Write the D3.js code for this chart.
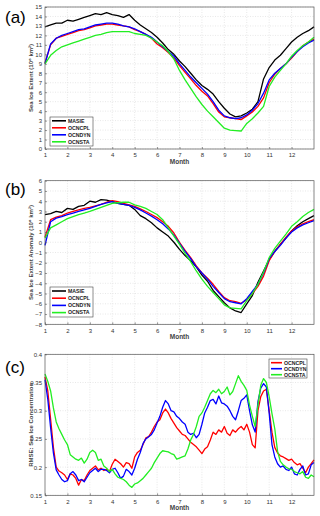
<!DOCTYPE html>
<html>
<head>
<meta charset="utf-8">
<script src="https://cdn.jsdelivr.net/npm/d3@7"></script>
<style>
  body { margin: 0; background: white; }
  text { font-family: "Liberation Sans", Arial, sans-serif; }
</style>
</head>
<body>
<div class="svg-container"></div>
<script>
/*** Data ***/

// month grid for panels (a) and (b), every quarter month
const monthsAB = d3.range(1, 13.001, 0.25)
// finer grid for panel (c)
const monthsC = d3.range(1, 13.001, 0.125)

const monthTicks = [1, 2, 3, 4, 5, 6, 7, 8, 9, 10, 11, 12]

// (a) sea ice extent, 10^6 km^2
const extMASIE = [12.9, 13.1, 13.3, 13.3, 13.6, 13.5, 13.7, 13.9, 14.1, 14.3, 14.2, 14.4, 14.2, 14.1, 13.9, 14.2,
    13.6, 13.1, 12.7, 12.3, 11.8, 11.2, 10.5, 10.0, 9.3, 8.7, 8.0, 7.3, 6.7, 6.3, 5.8, 5.0,
    4.3, 3.7, 3.4, 3.5, 3.8, 4.2, 5.0, 7.4, 8.6, 9.4, 9.9, 10.6, 11.3, 11.8, 12.2, 12.5, 12.9]
const extCPL = [9.1, 11.0, 11.7, 11.9, 12.1, 12.3, 12.5, 12.6, 12.8, 13.0, 13.1, 13.2, 13.2, 13.1, 13.0, 12.9,
    12.6, 12.4, 12.1, 11.7, 11.1, 10.7, 10.2, 9.6, 8.8, 8.1, 7.4, 6.7, 6.1, 5.6, 4.8, 3.9,
    3.4, 3.3, 3.2, 3.1, 3.5, 3.9, 4.5, 5.4, 7.0, 7.9, 8.5, 9.0, 9.6, 10.3, 10.9, 11.3, 11.6]
const extDYN = [9.0, 11.1, 11.7, 12.0, 12.2, 12.4, 12.6, 12.7, 12.9, 13.1, 13.2, 13.3, 13.3, 13.2, 13.0, 12.9,
    12.7, 12.4, 12.1, 11.8, 11.3, 10.8, 10.3, 9.8, 9.0, 8.3, 7.6, 7.0, 6.4, 5.8, 5.0, 4.1,
    3.5, 3.3, 3.2, 3.3, 3.6, 4.1, 4.8, 5.9, 7.3, 8.0, 8.5, 9.0, 9.7, 10.3, 10.8, 11.2, 11.5]
const extSTA = [9.0, 9.9, 10.4, 10.8, 11.0, 11.2, 11.4, 11.6, 11.8, 12.0, 12.1, 12.3, 12.4, 12.4, 12.4, 12.4,
    12.2, 12.1, 12.0, 11.7, 11.3, 10.9, 10.3, 9.5, 8.3, 7.3, 6.4, 5.5, 4.7, 4.0, 3.4, 2.8,
    2.2, 2.0, 1.95, 1.9, 2.7, 3.2, 3.8, 4.5, 6.6, 7.6, 8.3, 9.0, 9.8, 10.4, 10.9, 11.3, 11.8]

// (b) sea ice extent anomaly, 10^6 km^2
const anoMASIE = [2.7, 2.8, 3.0, 2.9, 3.3, 3.2, 3.5, 3.6, 4.0, 3.9, 4.15, 4.1, 3.95, 3.8, 3.7, 3.6,
    3.2, 2.6, 2.3, 1.9, 1.4, 1.0, 0.6, 0.0, -0.7, -1.3, -1.8, -2.4, -3.2, -3.8, -4.7, -5.3,
    -5.9, -6.4, -6.7, -6.85, -6.0, -5.2, -3.9, -2.8, -1.7, -0.9, -0.2, 0.4, 1.1, 1.6, 2.0, 2.3, 2.6]
const anoCPL = [0.5, 2.2, 2.45, 2.6, 2.85, 3.0, 3.15, 3.3, 3.4, 3.55, 3.7, 3.9, 4.05, 3.95, 3.8, 3.65,
    3.5, 3.25, 3.0, 2.7, 2.4, 2.0, 1.55, 0.9, 0.0, -0.8, -1.5, -2.3, -3.0, -3.5, -4.1, -4.8,
    -5.4, -5.7, -5.8, -5.95, -5.6, -5.0, -4.3, -3.3, -1.8, -0.9, -0.2, 0.5, 1.1, 1.5, 1.8, 2.0, 2.2]
const anoDYN = [-0.3, 2.0, 2.35, 2.5, 2.7, 2.85, 3.0, 3.15, 3.3, 3.5, 3.7, 3.85, 3.95, 3.8, 3.7, 3.6,
    3.4, 3.15, 2.85, 2.55, 2.2, 1.8, 1.3, 0.7, -0.1, -0.9, -1.6, -2.4, -3.0, -3.6, -4.3, -4.9,
    -5.5, -5.8, -5.9, -6.0, -5.5, -4.8, -4.1, -3.0, -1.6, -0.9, -0.3, 0.4, 1.0, 1.4, 1.7, 1.9, 2.1]
const anoSTA = [0.4, 1.4, 1.7, 2.0, 2.3, 2.5, 2.7, 2.85, 3.0, 3.2, 3.4, 3.6, 3.8, 3.85, 3.9, 3.9,
    3.65, 3.5, 3.3, 3.0, 2.7, 2.2, 1.4, 0.6, -0.2, -1.1, -1.9, -2.8, -3.6, -4.3, -4.9, -5.5,
    -6.1, -6.4, -6.45, -6.5, -5.7, -5.0, -4.1, -2.9, -1.5, -0.6, 0.1, 0.8, 1.55, 2.0, 2.5, 2.9, 3.2]

// (c) RMSE of sea ice concentration
const rmseCPL = [0.360, 0.335, 0.285, 0.235, 0.200, 0.193, 0.190, 0.186, 0.178, 0.188, 0.186, 0.180, 0.168, 0.178, 0.176, 0.186,
    0.194, 0.198, 0.202, 0.195, 0.198, 0.194, 0.196, 0.192, 0.205, 0.214, 0.210, 0.206, 0.200, 0.208, 0.206, 0.198,
    0.218, 0.226, 0.230, 0.240, 0.252, 0.254, 0.262, 0.272, 0.280, 0.284, 0.296, 0.303, 0.296, 0.286, 0.278, 0.270,
    0.264, 0.258, 0.256, 0.250, 0.244, 0.240, 0.236, 0.230, 0.224, 0.232, 0.236, 0.248, 0.262, 0.258, 0.266, 0.262,
    0.272, 0.260, 0.256, 0.266, 0.262, 0.268, 0.272, 0.266, 0.276, 0.262, 0.240, 0.234, 0.300, 0.325, 0.335, 0.338,
    0.300, 0.262, 0.235, 0.225, 0.220, 0.218, 0.215, 0.212, 0.214, 0.208, 0.204, 0.206, 0.198, 0.190, 0.200, 0.206, 0.213]
const rmseDYN = [0.355, 0.320, 0.270, 0.225, 0.195, 0.186, 0.178, 0.174, 0.176, 0.188, 0.192, 0.186, 0.176, 0.178, 0.174, 0.182,
    0.190, 0.194, 0.198, 0.192, 0.196, 0.196, 0.194, 0.190, 0.196, 0.198, 0.190, 0.180, 0.184, 0.196, 0.192, 0.186,
    0.198, 0.214, 0.226, 0.242, 0.250, 0.254, 0.258, 0.266, 0.278, 0.290, 0.306, 0.318, 0.312, 0.300, 0.298, 0.290,
    0.286, 0.280, 0.276, 0.262, 0.258, 0.260, 0.252, 0.258, 0.276, 0.296, 0.306, 0.318, 0.320, 0.312, 0.326, 0.314,
    0.312, 0.308, 0.300, 0.290, 0.284, 0.300, 0.318, 0.322, 0.328, 0.300, 0.275, 0.262, 0.316, 0.340, 0.348, 0.342,
    0.296, 0.240, 0.218, 0.206, 0.200, 0.202, 0.196, 0.194, 0.200, 0.188, 0.186, 0.196, 0.202, 0.186, 0.188, 0.204, 0.208]
const rmseSTA = [0.365, 0.352, 0.335, 0.305, 0.280, 0.268, 0.258, 0.248, 0.240, 0.222, 0.218, 0.214, 0.212, 0.216, 0.207, 0.214,
    0.226, 0.230, 0.226, 0.212, 0.214, 0.202, 0.198, 0.192, 0.196, 0.188, 0.182, 0.180, 0.178, 0.174, 0.168, 0.164,
    0.170, 0.172, 0.176, 0.180, 0.186, 0.192, 0.198, 0.208, 0.216, 0.224, 0.229, 0.228, 0.227, 0.224, 0.222, 0.214,
    0.216, 0.218, 0.220, 0.232, 0.248, 0.258, 0.272, 0.290, 0.296, 0.306, 0.318, 0.330, 0.336, 0.332, 0.338, 0.330,
    0.334, 0.342, 0.328, 0.334, 0.348, 0.362, 0.352, 0.345, 0.336, 0.310, 0.290, 0.272, 0.310, 0.345, 0.357, 0.350,
    0.325, 0.295, 0.268, 0.228, 0.210, 0.204, 0.200, 0.197, 0.196, 0.192, 0.190, 0.188, 0.192, 0.182, 0.180, 0.186, 0.183]

const colors = {MASIE: "#000000", OCNCPL: "#ff0000", OCNDYN: "#0000ff", OCNSTA: "#22ee22"}

/*** Layout ***/

const svgWidth = 320
const svgHeight = 516
const left = 45
const right = 314

let svg = d3.select(".svg-container")
    .append("svg")
    .attr("width", svgWidth)
    .attr("height", svgHeight)
    .style("background-color", "white")

function drawPanel(cfg) {
    let xScale = d3.scaleLinear().domain([1, 13]).range([left, right])
    let yScale = d3.scaleLinear().domain(cfg.yDomain).range([cfg.bottom, cfg.top])

    let g = svg.append("g")

    // dotted grid
    g.append("g").selectAll("line")
        .data(monthTicks.slice(1))
        .enter().append("line")
        .attr("x1", d => xScale(d)).attr("x2", d => xScale(d))
        .attr("y1", cfg.top).attr("y2", cfg.bottom)
        .attr("stroke", "#d8d8d8").attr("stroke-width", 0.6)
        .attr("stroke-dasharray", "1,1.5")
    g.append("g").selectAll("line")
        .data(cfg.yTicks)
        .enter().append("line")
        .attr("x1", left).attr("x2", right)
        .attr("y1", d => yScale(d)).attr("y2", d => yScale(d))
        .attr("stroke", "#d8d8d8").attr("stroke-width", 0.6)
        .attr("stroke-dasharray", "1,1.5")

    // lines
    let line = d3.line()
        .x((d, i) => xScale(cfg.months[i]))
        .y(d => yScale(d))
    cfg.series.forEach(s => {
        g.append("path")
            .datum(s.values)
            .attr("d", line)
            .attr("fill", "none")
            .attr("stroke", colors[s.name])
            .attr("stroke-width", 1.3)
            .attr("stroke-linejoin", "round")
    })

    // frame
    g.append("rect")
        .attr("x", left).attr("y", cfg.top)
        .attr("width", right - left).attr("height", cfg.bottom - cfg.top)
        .attr("fill", "none").attr("stroke", "#555").attr("stroke-width", 0.7)

    // axes, ticks point inward
    let bottomAxis = d3.axisBottom(xScale)
        .tickValues(monthTicks)
        .tickFormat(d3.format("d"))
        .tickSizeInner(-2).tickSizeOuter(0).tickPadding(4)
    let xAxis = g.append("g")
        .attr("transform", `translate(0, ${cfg.bottom})`)
        .call(bottomAxis)
    let leftAxis = d3.axisLeft(yScale)
        .tickValues(cfg.yTicks)
        .tickFormat(cfg.fmt)
        .tickSizeInner(-2).tickSizeOuter(0).tickPadding(3)
    let yAxis = g.append("g")
        .attr("transform", `translate(${left}, 0)`)
        .call(leftAxis)
    ;[xAxis, yAxis].forEach(ax => {
        ax.select(".domain").remove()
        ax.selectAll("line").attr("stroke", "#555").attr("stroke-width", 0.6)
        ax.selectAll("text").style("font-size", "6px").attr("fill", "#333")
    })

    // axis titles
    g.append("text")
        .attr("x", (left + right) / 2)
        .attr("y", cfg.bottom + 15)
        .style("text-anchor", "middle")
        .style("font-size", "6.5px")
        .style("font-weight", "bold")
        .attr("fill", "#444")
        .text("Month")
    g.append("text")
        .attr("transform", `translate(33, ${(cfg.top + cfg.bottom) / 2}) rotate(-90)`)
        .style("text-anchor", "middle")
        .style("font-size", "6px")
        .style("font-weight", "bold")
        .attr("fill", "#444")
        .text(cfg.yTitle)

    // panel label
    g.append("text")
        .attr("x", 5)
        .attr("y", cfg.labelY)
        .style("font-size", "17px")
        .attr("fill", "black")
        .text(cfg.label)

    // legend
    let lg = cfg.legend
    let leg = g.append("g").attr("transform", `translate(${lg.x}, ${lg.y})`)
    leg.append("rect")
        .attr("width", lg.w).attr("height", lg.h)
        .attr("fill", "white").attr("stroke", "#444").attr("stroke-width", 0.6)
    cfg.series.forEach((s, i) => {
        let yy = lg.first + i * lg.step
        leg.append("line")
            .attr("x1", 2).attr("x2", lg.lineLen + 2)
            .attr("y1", yy).attr("y2", yy)
            .attr("stroke", colors[s.name]).attr("stroke-width", 1.6)
        leg.append("text")
            .attr("x", lg.lineLen + 4).attr("y", yy + 1.8)
            .style("font-size", "5.2px").style("font-weight", "bold")
            .attr("fill", "#222")
            .text(s.name)
    })
}

drawPanel({
    label: "(a)", labelY: 23,
    top: 7, bottom: 149, months: monthsAB,
    yDomain: [0, 15], yTicks: d3.range(0, 16), fmt: d3.format("d"),
    yTitle: "Sea Ice Extent (10\u2076 km\u00B2)",
    series: [
        {name: "MASIE", values: extMASIE},
        {name: "OCNCPL", values: extCPL},
        {name: "OCNDYN", values: extDYN},
        {name: "OCNSTA", values: extSTA}
    ],
    legend: {x: 50, y: 117, w: 43, h: 29, first: 3.8, step: 7, lineLen: 14}
})

drawPanel({
    label: "(b)", labelY: 195,
    top: 180.7, bottom: 324.3, months: monthsAB,
    yDomain: [-8, 6], yTicks: d3.range(-8, 7), fmt: d3.format("d"),
    yTitle: "Sea Ice Extent Anomaly (10\u2076 km\u00B2)",
    series: [
        {name: "MASIE", values: anoMASIE},
        {name: "OCNCPL", values: anoCPL},
        {name: "OCNDYN", values: anoDYN},
        {name: "OCNSTA", values: anoSTA}
    ],
    legend: {x: 50, y: 287, w: 43, h: 30, first: 4, step: 7.2, lineLen: 14}
})

drawPanel({
    label: "(c)", labelY: 373,
    top: 354.3, bottom: 495.3, months: monthsC,
    yDomain: [0.15, 0.4], yTicks: [0.15, 0.2, 0.25, 0.3, 0.35, 0.4], fmt: d => String(+d.toFixed(2)),
    yTitle: "RMSE: Sea Ice Concentration",
    series: [
        {name: "OCNCPL", values: rmseCPL},
        {name: "OCNDYN", values: rmseDYN},
        {name: "OCNSTA", values: rmseSTA}
    ],
    legend: {x: 269, y: 359, w: 38, h: 19, first: 3.7, step: 6, lineLen: 11}
})
</script>
</body>
</html>
